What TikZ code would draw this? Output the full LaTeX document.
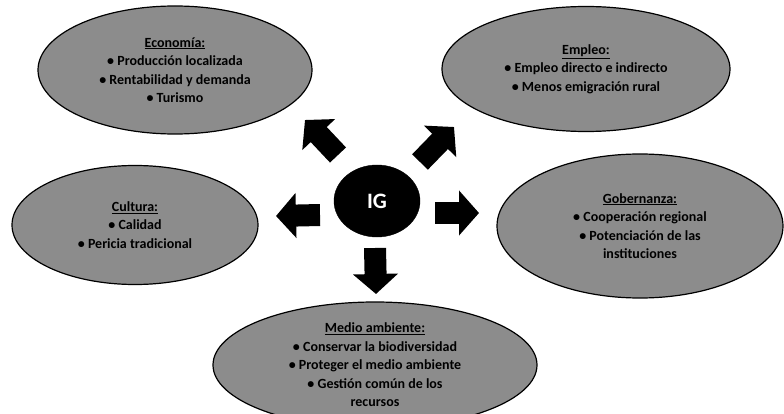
\documentclass[tikz,border=0pt]{standalone}
\usepackage{fontspec}
\setmainfont{Carlito}
\usetikzlibrary{arrows.meta}
\usetikzlibrary{shapes.geometric}

\begin{document}
\begin{tikzpicture}[x=1pt, y=-1pt, line cap=round, line join=round,
    campo/.style={draw, ellipse, line width=1.2pt, fill=black!45, inner sep=0pt,
      align=center, font=\fontsize{14}{18.5}\selectfont\bfseries},
    flecha/.style={line width=22pt, line cap=butt, -{Triangle[length=20pt, width=44pt]}}]
  \useasboundingbox (0,0) rectangle (784,414);
  %--- Nodes
    \node[draw, ellipse, fill=black, minimum width=86pt, minimum height=72pt, inner sep=0pt,
      text=white, font=\fontsize{22}{24}\selectfont\bfseries] (IG) at (377,201) {IG};
    \node[campo, minimum width=274pt, minimum height=128pt] (ECO) at (175,70)
      {\underline{Economía:}\\ • Producción localizada\\ • Rentabilidad y demanda\\ • Turismo};
    \node[campo, minimum width=288pt, minimum height=125pt] (EMP) at (586,69)
      {\underline{Empleo:}\\ • Empleo directo e indirecto\\ • Menos emigración rural};
    \node[campo, minimum width=246pt, minimum height=119pt] (CUL) at (135,225)
      {\underline{Cultura:}\\ • Calidad\\ • Pericia tradicional};
    \node[campo, minimum width=286pt, minimum height=144pt] (GOB) at (640,226)
      {\underline{Gobernanza:}\\ • Cooperación regional\\ • Potenciación de las\\ instituciones};
    \node[campo, minimum width=324pt, minimum height=126pt] (MED) at (375,365)
      {\underline{Medio ambiente:}\\ • Conservar la biodiversidad\\ • Proteger el medio ambiente\\ • Gestión común de los\\ recursos};
  %--- Arrow ends
    \coordinate (a1) at (338,155); \coordinate (b1) at (305,120);
    \coordinate (a2) at (420,162); \coordinate (b2) at (454,127);
    \coordinate (a3) at (320,215); \coordinate (b3) at (276,216);
    \coordinate (a4) at (435,213); \coordinate (b4) at (479,213);
    \coordinate (a5) at (375,248); \coordinate (b5) at (376,294);
  %--- Arrows
    \draw[flecha] (a1) -- (b1);
    \draw[flecha] (a2) -- (b2);
    \draw[flecha] (a3) -- (b3);
    \draw[flecha] (a4) -- (b4);
    \draw[flecha] (a5) -- (b5);
  %---
\end{tikzpicture}
\end{document}
